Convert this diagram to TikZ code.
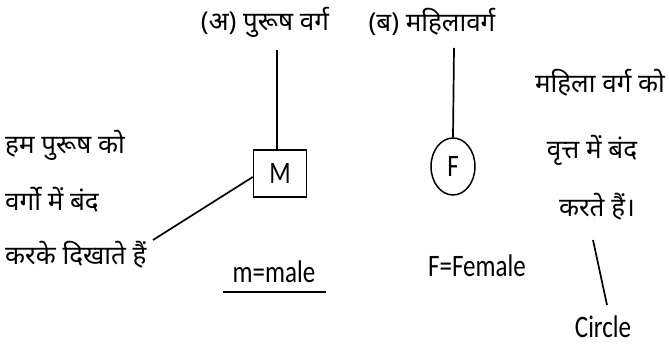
\documentclass[tikz,border=0pt]{standalone}
\usepackage{fontspec}
\usetikzlibrary{shapes.geometric}
\setmainfont{Carlito}
\newfontfamily\dev[Script=Devanagari]{Noto Sans}
\newcommand{\tallt}[1]{\scalebox{1}[1.25]{#1}}
\begin{document}
\begin{tikzpicture}[x=1pt,y=-1pt,
  hin/.style={font=\dev\fontsize{26}{30}\selectfont, inner sep=0pt},
  lat/.style={font=\fontsize{25}{28}\selectfont, inner sep=0pt},
  conn/.style={line width=1.7pt}]
\useasboundingbox (0,0) rectangle (669,347);
\node[hin] (ta) at (265,22) {(अ) पुरूष वर्ग};
\node[hin] (tb) at (432,22) {(ब) महिलावर्ग};
\coordinate (ca) at (277,50);
\coordinate (cb) at (454,48);
\node[lat, draw, line width=1.5pt, minimum width=53pt, minimum height=47pt] (M) at (280,173.5) {\tallt{M}};
\node[lat, draw, ellipse, line width=1.5pt, minimum width=44pt, minimum height=57pt, inner sep=0pt] (F) at (453,166.5) {\tallt{F}};
\draw[conn] (ca) -- (M.north -| ca);
\draw[conn] (cb) -- (F.north);
\node[hin, anchor=west] (l1) at (5,145) {हम पुरूष को};
\node[hin, anchor=west] (l2) at (5,200) {वर्गो में बंद};
\node[hin, anchor=west] (l3) at (5,255) {करके दिखाते हैं};
\coordinate (lm) at (153,240);
\draw[conn] (lm) -- (M.west |- 0,177);
\node[lat] (mm) at (274,272) {\tallt{m=male}};
\draw[conn] (223,292) coordinate (u1) -- (326,292) coordinate (u2);
\node[lat] (ff) at (477,266) {\tallt{F=Female}};
\node[hin] (r1) at (600,83) {महिला वर्ग को};
\node[hin] (r2) at (592,150) {वृत्त में बंद};
\node[hin] (r3) at (597,207) {करते हैं।};
\node[lat] (circ) at (603,327) {\tallt{Circle}};
\coordinate (c1) at (593,240);
\coordinate (c2) at (607,305);
\draw[conn] (c1) -- (c2);
\end{tikzpicture}
\end{document}
